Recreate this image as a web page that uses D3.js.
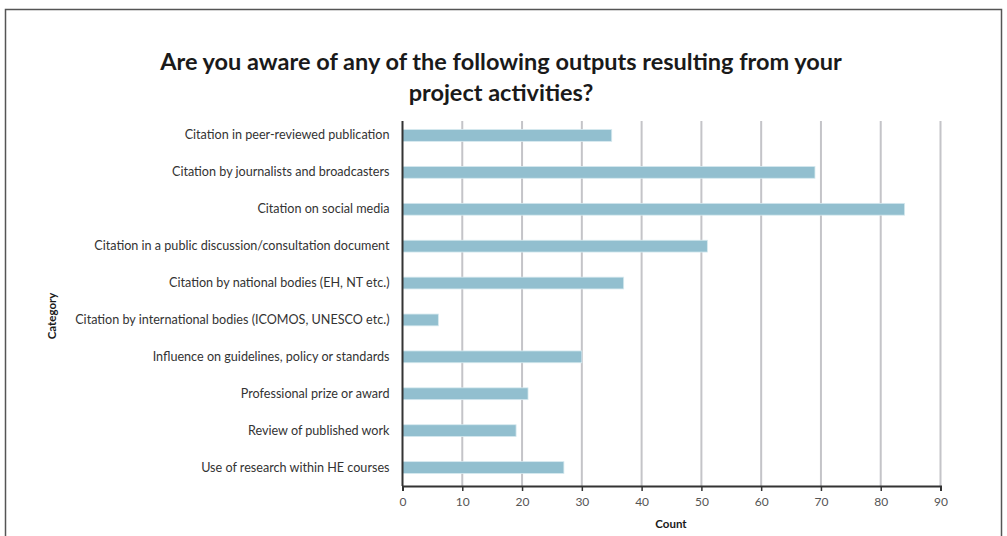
<!DOCTYPE html>
<html>
<head>
<meta charset="utf-8">
<script src="https://cdn.jsdelivr.net/npm/d3@7"></script>
<style>
  body { margin: 0; background: #fff; }
  svg { display: block; font-family: Lato, "Open Sans", sans-serif; }
</style>
</head>
<body>
<svg id="chart" width="1007" height="536"></svg>
<script>
const categories = [
  "Citation in peer-reviewed publication",
  "Citation by journalists and broadcasters",
  "Citation on social media",
  "Citation in a public discussion/consultation document",
  "Citation by national bodies (EH, NT etc.)",
  "Citation by international bodies (ICOMOS, UNESCO etc.)",
  "Influence on guidelines, policy or standards",
  "Professional prize or award",
  "Review of published work",
  "Use of research within HE courses"
];
const counts = [35, 69, 84, 51, 37, 6, 30, 21, 19, 27];
const xTicks = [0, 10, 20, 30, 40, 50, 60, 70, 80, 90];
const titleLines = [
  "Are you aware of any of the following outputs resulting from your",
  "project activities?"
];

const svg = d3.select("#chart");
const margin = { left: 402.5, right: 940.5, top: 117, bottom: 486 };

// frame
svg.append("rect")
  .attr("x", 5.5).attr("y", 9.5)
  .attr("width", 996).attr("height", 540)
  .attr("fill", "none")
  .attr("stroke", "#555")
  .attr("stroke-width", 1.5);

const x = d3.scaleLinear().domain([0, 90]).range([margin.left, margin.right]);
const y = d3.scaleBand().domain(categories).range([margin.top, margin.bottom]).paddingInner(0.68).paddingOuter(0.34);

// gridlines
svg.append("g")
  .selectAll("line")
  .data(xTicks.slice(1))
  .join("line")
  .attr("x1", d => x(d)).attr("x2", d => x(d))
  .attr("y1", margin.top + 4).attr("y2", margin.bottom)
  .attr("stroke", "#c4c4c8")
  .attr("stroke-width", 2);

// bars
svg.append("g")
  .selectAll("rect")
  .data(counts)
  .join("rect")
  .attr("x", x(0))
  .attr("y", (d, i) => y(categories[i]))
  .attr("width", d => x(d) - x(0))
  .attr("height", y.bandwidth())
  .attr("fill", "#92bfcf")
  .attr("stroke", "#d6e9ef")
  .attr("stroke-width", 0.8);

// x axis
const xAxis = svg.append("g")
  .attr("transform", `translate(0,${margin.bottom})`)
  .call(d3.axisBottom(x).tickValues(xTicks).tickSize(5).tickPadding(6));
xAxis.select(".domain").attr("stroke", "#333").attr("stroke-width", 2);
xAxis.selectAll(".tick line").attr("stroke", "#333").attr("stroke-width", 1.5);
xAxis.selectAll(".tick text")
  .attr("fill", "#555")
  .style("font-size", "12px")
  .style("font-family", "Lato, sans-serif");

// y axis
const yAxis = svg.append("g")
  .attr("transform", `translate(${margin.left},0)`)
  .call(d3.axisLeft(y).tickSize(0).tickPadding(13));
yAxis.select(".domain").attr("stroke", "#333").attr("stroke-width", 2)
  .attr("d", `M0,${margin.top + 4}V${margin.bottom}`);
yAxis.selectAll(".tick text")
  .attr("fill", "#333")
  .style("font-size", "12.6px")
  .style("font-family", "Lato, sans-serif");

// title
svg.append("g")
  .selectAll("text")
  .data(titleLines)
  .join("text")
  .attr("x", 501)
  .attr("y", (d, i) => 70 + i * 31)
  .attr("text-anchor", "middle")
  .attr("font-size", 23.5)
  .attr("font-weight", "bold")
  .attr("fill", "#1a1a1a")
  .text(d => d);

// axis titles
svg.append("text")
  .attr("x", 671).attr("y", 528)
  .attr("text-anchor", "middle")
  .attr("font-size", 11.5)
  .attr("font-weight", "bold")
  .attr("fill", "#1a1a1a")
  .text("Count");

svg.append("text")
  .attr("transform", "translate(56,316) rotate(-90)")
  .attr("text-anchor", "middle")
  .attr("font-size", 11.5)
  .attr("font-weight", "bold")
  .attr("fill", "#1a1a1a")
  .text("Category");
</script>
</body>
</html>
